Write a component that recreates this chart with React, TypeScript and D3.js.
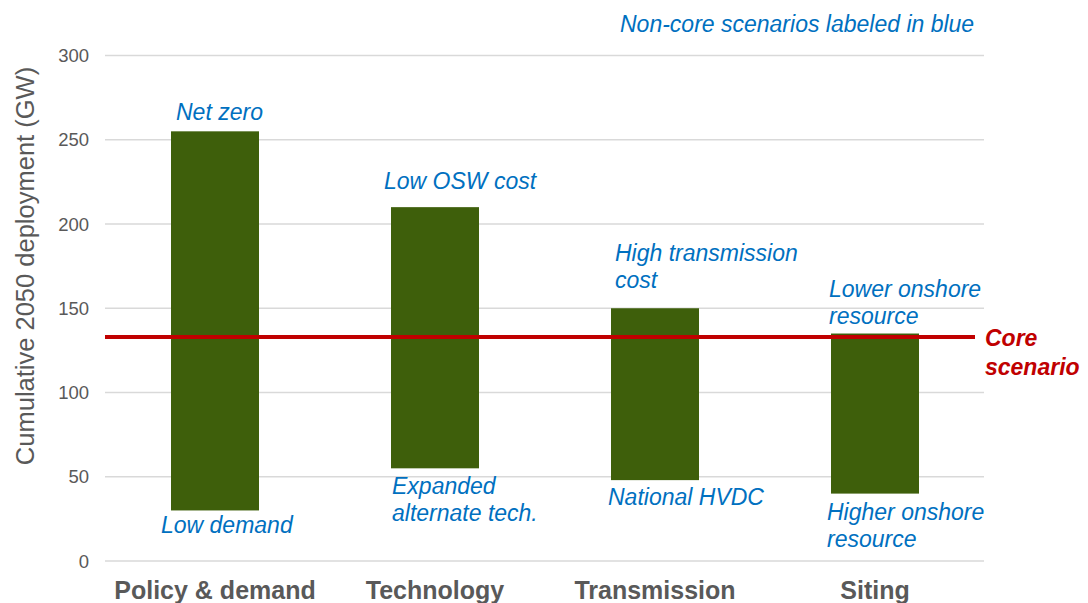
import React, { useEffect, useRef } from 'react';
import * as d3 from 'd3';

const categories = ['Policy & demand', 'Technology', 'Transmission', 'Siting'];
const highValues = [255, 210, 150, 135];
const lowValues = [30, 55, 48, 40];
const highLabels = [['Net zero'], ['Low OSW cost'], ['High transmission', 'cost'], ['Lower onshore', 'resource']];
const lowLabels = [['Low demand'], ['Expanded', 'alternate tech.'], ['National HVDC'], ['Higher onshore', 'resource']];
const coreValue = 133;
const yTicks = [0, 50, 100, 150, 200, 250, 300];

// label offsets from the bar's left edge / end (px)
const highOffsets = [{ dx: 5, dy: -11 }, { dx: -7, dy: -18 }, { dx: 4, dy: -20 }, { dx: -2, dy: -10 }];
const lowOffsets = [{ dx: -10, dy: 23 }, { dx: 1, dy: 26 }, { dx: -3, dy: 25 }, { dx: -4, dy: 26 }];

const W = 1088;
const H = 603;
const FONT = 'Liberation Sans, Arial, sans-serif';
const BLUE = '#0070c0';
const RED = '#c00000';
const GREEN = '#3e5f0b';
const GRAY = '#595959';

const App = () => {
  const svgRef = useRef<SVGSVGElement>(null);

  useEffect(() => {
    const svg = d3.select(svgRef.current);
    svg.selectAll('*').remove();

    const x = d3.scaleBand().domain(categories).range([105, 985]).paddingInner(0.6).paddingOuter(0.3);
    const y = d3.scaleLinear().domain([0, 300]).range([561, 55.5]);

    // gridlines
    svg.append('g')
      .selectAll('line')
      .data(yTicks)
      .enter()
      .append('line')
      .attr('x1', 105)
      .attr('x2', 984)
      .attr('y1', d => y(d))
      .attr('y2', d => y(d))
      .attr('stroke', '#d9d9d9')
      .attr('stroke-width', 1.5);

    // y tick labels
    svg.append('g')
      .selectAll('text')
      .data(yTicks)
      .enter()
      .append('text')
      .attr('x', 89)
      .attr('y', d => y(d) + 6.5)
      .attr('text-anchor', 'end')
      .attr('font-family', FONT)
      .attr('font-size', 18.5)
      .attr('fill', GRAY)
      .text(d => d);

    // y axis title
    svg.append('text')
      .attr('transform', `translate(34, 266) rotate(-90)`)
      .attr('text-anchor', 'middle')
      .attr('font-family', FONT)
      .attr('font-size', 25.5)
      .attr('fill', GRAY)
      .text('Cumulative 2050 deployment (GW)');

    // range bars
    svg.append('g')
      .selectAll('rect')
      .data(categories)
      .enter()
      .append('rect')
      .attr('x', d => x(d)!)
      .attr('width', x.bandwidth())
      .attr('y', (d, i) => y(highValues[i]))
      .attr('height', (d, i) => y(lowValues[i]) - y(highValues[i]))
      .attr('fill', GREEN);

    // core scenario line
    svg.append('line')
      .attr('x1', 105)
      .attr('x2', 975)
      .attr('y1', y(coreValue))
      .attr('y2', y(coreValue))
      .attr('stroke', RED)
      .attr('stroke-width', 4);

    const core = svg.append('text')
      .attr('x', 985)
      .attr('font-family', FONT)
      .attr('font-size', 23)
      .attr('font-weight', 'bold')
      .attr('font-style', 'italic')
      .attr('fill', RED);
    core.append('tspan').attr('x', 985).attr('y', y(coreValue) + 9).text('Core');
    core.append('tspan').attr('x', 985).attr('y', y(coreValue) + 38).text('scenario');

    // scenario labels
    const addLabel = (lines: string[], x0: number, baseLast: number, stackUp: boolean) => {
      const t = svg.append('text')
        .attr('font-family', FONT)
        .attr('font-size', 23)
        .attr('font-style', 'italic')
        .attr('fill', BLUE);
      lines.forEach((line, j) => {
        const yy = stackUp ? baseLast - (lines.length - 1 - j) * 27 : baseLast + j * 27;
        t.append('tspan').attr('x', x0).attr('y', yy).text(line);
      });
    };

    categories.forEach((c, i) => {
      const left = x(c)!;
      addLabel(highLabels[i], left + highOffsets[i].dx, y(highValues[i]) + highOffsets[i].dy, true);
      addLabel(lowLabels[i], left + lowOffsets[i].dx, y(lowValues[i]) + lowOffsets[i].dy, false);
    });

    svg.append('text')
      .attr('x', 620)
      .attr('y', 32)
      .attr('font-family', FONT)
      .attr('font-size', 23)
      .attr('font-style', 'italic')
      .attr('fill', BLUE)
      .text('Non-core scenarios labeled in blue');

    // category labels
    svg.append('g')
      .selectAll('text')
      .data(categories)
      .enter()
      .append('text')
      .attr('x', d => x(d)! + x.bandwidth() / 2)
      .attr('y', 599)
      .attr('text-anchor', 'middle')
      .attr('font-family', FONT)
      .attr('font-size', 25)
      .attr('font-weight', 'bold')
      .attr('fill', GRAY)
      .text(d => d);
  }, []);

  return (
    <svg
      ref={svgRef}
      width={W}
      height={H}
      style={{ position: 'absolute', left: 0, top: 0, background: '#fff' }}
    />
  );
};

export default App;
